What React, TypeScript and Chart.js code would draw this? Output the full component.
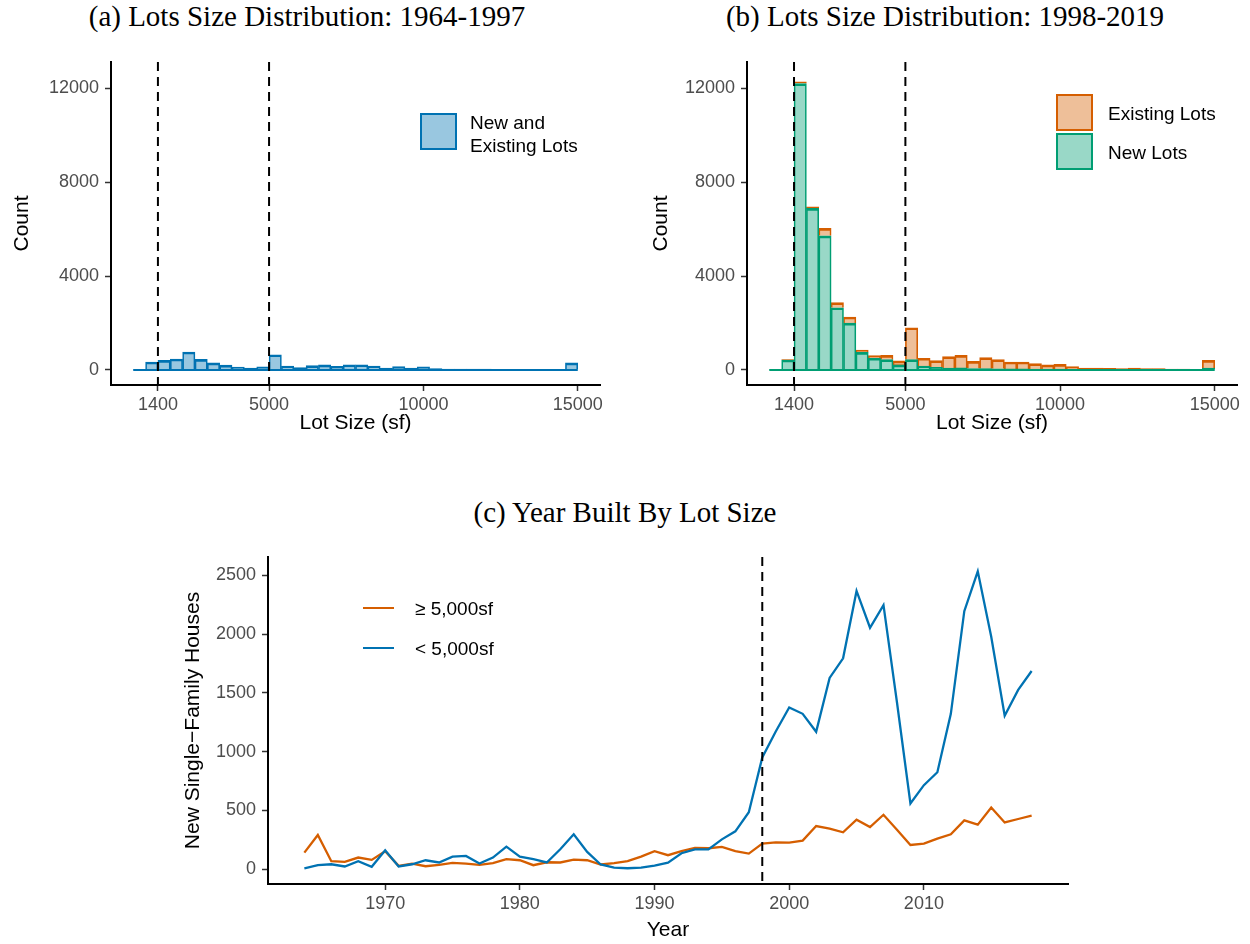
import React, { useEffect, useRef } from "react";
import { Chart, registerables } from "chart.js";

Chart.register(...registerables);

const SANS = '"Liberation Sans", Arial, Helvetica, sans-serif';
const SERIF = '"Liberation Serif", "Times New Roman", serif';

// ---------- Data ----------
const binStarts = [600, 1000, 1400, 1800, 2200, 2600, 3000, 3400, 3800, 4200, 4600, 5000, 5400, 5800, 6200, 6600, 7000, 7400, 7800, 8200, 8600, 9000, 9400, 9800, 10200, 10600, 11000, 11400, 11800, 12200, 12600, 13000, 13400, 13800, 14200, 14600];
const binWidth = 400;

// (a) 1964-1997, new and existing lots
const allLotsEarly = [15, 340, 410, 470, 765, 450, 300, 210, 128, 85, 130, 650, 170, 100, 185, 220, 155, 225, 225, 170, 85, 140, 85, 130, 55, 40, 40, 35, 35, 30, 30, 25, 25, 20, 15, 300];

// (b) 1998-2019
const newLots = [10, 425, 12210, 6890, 5720, 2655, 2000, 750, 500, 440, 220, 440, 170, 110, 85, 90, 60, 55, 50, 45, 45, 40, 40, 35, 30, 30, 25, 25, 25, 20, 20, 20, 15, 15, 15, 85];
const existingLots = [0, 15, 70, 70, 320, 215, 260, 100, 110, 185, 170, 1360, 330, 290, 485, 535, 310, 470, 390, 295, 295, 230, 175, 205, 110, 55, 60, 45, 32, 65, 37, 37, 27, 27, 13, 325];

const lotTicks = [1400, 5000, 10000, 15000];
const countTicks = [0, 4000, 8000, 12000];
const lotCutoffs = [1400, 5000];

// (c) year built by lot size
const years = [1964, 1965, 1966, 1967, 1968, 1969, 1970, 1971, 1972, 1973, 1974, 1975, 1976, 1977, 1978, 1979, 1980, 1981, 1982, 1983, 1984, 1985, 1986, 1987, 1988, 1989, 1990, 1991, 1992, 1993, 1994, 1995, 1996, 1997, 1998, 1999, 2000, 2001, 2002, 2003, 2004, 2005, 2006, 2007, 2008, 2009, 2010, 2011, 2012, 2013, 2014, 2015, 2016, 2017, 2018];
const largeLotHouses = [141, 291, 68, 62, 99, 79, 153, 28, 48, 25, 37, 54, 48, 37, 51, 85, 76, 34, 59, 57, 82, 76, 40, 51, 68, 107, 153, 119, 153, 181, 178, 189, 153, 133, 218, 228, 226, 243, 367, 345, 314, 421, 359, 463, 336, 206, 218, 260, 297, 415, 379, 525, 398, 427, 455];
const smallLotHouses = [6, 34, 42, 23, 68, 20, 161, 23, 42, 76, 57, 107, 113, 48, 99, 192, 107, 85, 57, 170, 297, 147, 40, 14, 8, 14, 31, 56, 136, 169, 169, 254, 322, 485, 950, 1172, 1376, 1322, 1169, 1627, 1794, 2367, 2054, 2246, 1420, 559, 715, 825, 1322, 2195, 2534, 1977, 1305, 1525, 1686];
const yearTicks = [1970, 1980, 1990, 2000, 2010];
const houseTicks = [0, 500, 1000, 1500, 2000, 2500];
const policyYears = [1998];

// ---------- Colours ----------
const BLUE = "#0072B2";
const ORANGE = "#D55E00";
const GREEN = "#009E73";
const BLUE_FILL = "rgba(0,114,178,0.4)";
const ORANGE_FILL = "rgba(213,94,0,0.4)";
const GREEN_FILL = "rgba(0,158,115,0.4)";

type Box = { left: number; top: number; width: number; height: number };
type Area = { l: number; t: number; r: number; b: number };

function axisCommon(ticks: number[], fit: (s: any) => void, title: string, titlePad: any, tickPad: number) {
  return {
    type: "linear" as const,
    offset: false,
    afterBuildTicks: (s: any) => {
      s.ticks = ticks.map((v) => ({ value: v }));
    },
    afterFit: fit,
    grid: {
      display: true,
      drawOnChartArea: false,
      drawTicks: true,
      tickLength: 6,
      tickWidth: 1.5,
      tickColor: "#333333",
      color: "#333333",
      offset: false,
    },
    border: { display: true, color: "#000000", width: 2 },
    ticks: {
      color: "#4D4D4D",
      font: { family: SANS, size: 18 },
      padding: tickPad,
      maxRotation: 0,
      autoSkip: false,
      callback: (v: any) => String(v),
    },
    title: {
      display: true,
      text: title,
      color: "#000000",
      font: { family: SANS, size: 21 },
      padding: titlePad,
    },
  };
}

function vlinePlugin(values: number[]) {
  return {
    id: "vlines",
    afterDatasetsDraw(chart: any) {
      const { ctx, chartArea, scales } = chart;
      ctx.save();
      ctx.strokeStyle = "#000000";
      ctx.lineWidth = 2;
      ctx.setLineDash([9, 6]);
      for (const v of values) {
        const x = scales.x.getPixelForValue(v);
        ctx.beginPath();
        ctx.moveTo(x, chartArea.top);
        ctx.lineTo(x, chartArea.bottom);
        ctx.stroke();
      }
      ctx.restore();
    },
  };
}

function baselinePlugin(color: string) {
  return {
    id: "baseline",
    afterDatasetsDraw(chart: any) {
      const { ctx, scales } = chart;
      const x0 = scales.x.getPixelForValue(binStarts[0]);
      const x1 = scales.x.getPixelForValue(binStarts[binStarts.length - 1] + binWidth);
      const y = scales.y.getPixelForValue(0);
      ctx.save();
      ctx.strokeStyle = color;
      ctx.lineWidth = 2;
      ctx.beginPath();
      ctx.moveTo(x0, y);
      ctx.lineTo(x1, y);
      ctx.stroke();
      ctx.restore();
    },
  };
}

function ChartCanvas({ box, area, build }: { box: Box; area: Area; build: (box: Box, area: Area) => any }) {
  const ref = useRef<HTMLCanvasElement>(null);
  useEffect(() => {
    const cfg = build(box, area);
    const chart = new Chart(ref.current as HTMLCanvasElement, cfg);
    return () => chart.destroy();
  }, []);
  return (
    <canvas
      ref={ref}
      width={box.width}
      height={box.height}
      style={{ position: "absolute", left: box.left, top: box.top, width: box.width, height: box.height }}
    />
  );
}

function baseOptions(box: Box, area: Area) {
  return {
    responsive: false,
    animation: false as const,
    devicePixelRatio: 1,
    layout: {
      padding: {
        left: 0,
        top: area.t - box.top,
        right: box.left + box.width - area.r,
        bottom: 0,
      },
    },
    plugins: { legend: { display: false }, tooltip: { enabled: false }, title: { display: false } },
  };
}

function histBar(counts: number[], fill: string, stroke: string, label: string) {
  return {
    label,
    data: binStarts.map((s, i) => ({ x: s + binWidth / 2, y: counts[i] })),
    backgroundColor: fill,
    borderColor: stroke,
    borderWidth: { top: 2, left: 1, right: 1, bottom: 0 },
    borderSkipped: false,
    barPercentage: 1,
    categoryPercentage: 1,
  };
}

function histConfig(datasets: any[], baseColor: string, stacked: boolean, yTitlePadTop: number) {
  return (box: Box, area: Area) => ({
    type: "bar",
    data: { datasets },
    options: {
      ...baseOptions(box, area),
      scales: {
        x: {
          ...axisCommon(lotTicks, (s: any) => { s.height = box.top + box.height - area.b; }, "Lot Size (sf)", { top: 0, bottom: 0 }, 3),
          min: -120,
          max: 15720,
          stacked,
        },
        y: {
          ...axisCommon(countTicks, (s: any) => { s.width = area.l - box.left; }, "Count", { top: yTitlePadTop, bottom: 0 }, 6),
          min: -640,
          max: 13130,
          stacked,
        },
      },
    },
    plugins: [baselinePlugin(baseColor), vlinePlugin(lotCutoffs)],
  });
}

const buildA = histConfig([histBar(allLotsEarly, BLUE_FILL, BLUE, "New and Existing Lots")], BLUE, false, 9.4);
const buildB = histConfig(
  [histBar(newLots, GREEN_FILL, GREEN, "New Lots"), histBar(existingLots, ORANGE_FILL, ORANGE, "Existing Lots")],
  GREEN,
  true,
  8.4
);

const buildC = (box: Box, area: Area) => ({
  type: "line",
  data: {
    datasets: [
      {
        label: "< 5,000sf",
        data: years.map((y, i) => ({ x: y, y: smallLotHouses[i] })),
        borderColor: BLUE,
        borderWidth: 2.3,
        pointRadius: 0,
        tension: 0,
        fill: false,
        order: 0,
      },
      {
        label: "≥ 5,000sf",
        data: years.map((y, i) => ({ x: y, y: largeLotHouses[i] })),
        borderColor: ORANGE,
        borderWidth: 2.3,
        pointRadius: 0,
        tension: 0,
        fill: false,
        order: 1,
      },
    ],
  },
  options: {
    ...baseOptions(box, area),
    scales: {
      x: {
        ...axisCommon(yearTicks, (s: any) => { s.height = box.top + box.height - area.b; }, "Year", { top: 0, bottom: 0 }, 3),
        min: 1961.3,
        max: 2020.7,
      },
      y: {
        ...axisCommon(houseTicks, (s: any) => { s.width = area.l - box.left; }, "New Single\u2212Family Houses", { top: 10.4, bottom: 0 }, 6),
        min: -126,
        max: 2656,
      },
    },
  },
  plugins: [vlinePlugin(policyYears)],
});

const titleStyle = (centerX: number, top: number): React.CSSProperties => ({
  position: "absolute",
  left: centerX - 350,
  width: 700,
  top,
  height: 34,
  lineHeight: "34px",
  textAlign: "center",
  fontFamily: SERIF,
  fontSize: 29,
  color: "#000",
  whiteSpace: "nowrap",
});

const legendText = (left: number, centerY: number): React.CSSProperties => ({
  position: "absolute",
  left,
  top: centerY - 11.5,
  height: 23,
  lineHeight: "23px",
  fontFamily: SANS,
  fontSize: 19,
  color: "#000",
  whiteSpace: "nowrap",
});

const keyBox = (left: number, top: number, fill: string, stroke: string): React.CSSProperties => ({
  position: "absolute",
  left,
  top,
  width: 37,
  height: 37,
  boxSizing: "border-box",
  border: `2px solid ${stroke}`,
  background: fill,
});

const keyLine = (left: number, centerY: number, color: string): React.CSSProperties => ({
  position: "absolute",
  left,
  top: centerY - 1.2,
  width: 31,
  height: 2.4,
  background: color,
});

export default function App() {
  return (
    <div style={{ position: "absolute", left: 0, top: 0, width: 1250, height: 944, background: "#fff", overflow: "hidden" }}>
      <div style={titleStyle(307, -1)}>(a) Lots Size Distribution: 1964-1997</div>
      <div style={titleStyle(945, -1)}>(b) Lots Size Distribution: 1998-2019</div>
      <div style={titleStyle(625, 495)}>(c) Year Built By Lot Size</div>

      <ChartCanvas box={{ left: 0, top: 40, width: 650, height: 396 }} area={{ l: 111, t: 62, r: 600, b: 385 }} build={buildA} />
      <ChartCanvas box={{ left: 640, top: 40, width: 610, height: 396 }} area={{ l: 747, t: 62, r: 1237, b: 385 }} build={buildB} />
      <ChartCanvas box={{ left: 170, top: 530, width: 940, height: 413 }} area={{ l: 268, t: 557, r: 1068, b: 884 }} build={buildC} />

      {/* legend (a) */}
      <div style={keyBox(420, 113, BLUE_FILL, BLUE)} />
      <div style={legendText(470, 122)}>New and</div>
      <div style={legendText(470, 145)}>Existing Lots</div>

      {/* legend (b) */}
      <div style={keyBox(1056, 94, ORANGE_FILL, ORANGE)} />
      <div style={keyBox(1056, 133, GREEN_FILL, GREEN)} />
      <div style={legendText(1108, 113)}>Existing Lots</div>
      <div style={legendText(1108, 152)}>New Lots</div>

      {/* legend (c) */}
      <div style={keyLine(363, 608, ORANGE)} />
      <div style={keyLine(363, 648, BLUE)} />
      <div style={legendText(415, 608)}>≥ 5,000sf</div>
      <div style={legendText(415, 648)}>&lt; 5,000sf</div>
    </div>
  );
}
